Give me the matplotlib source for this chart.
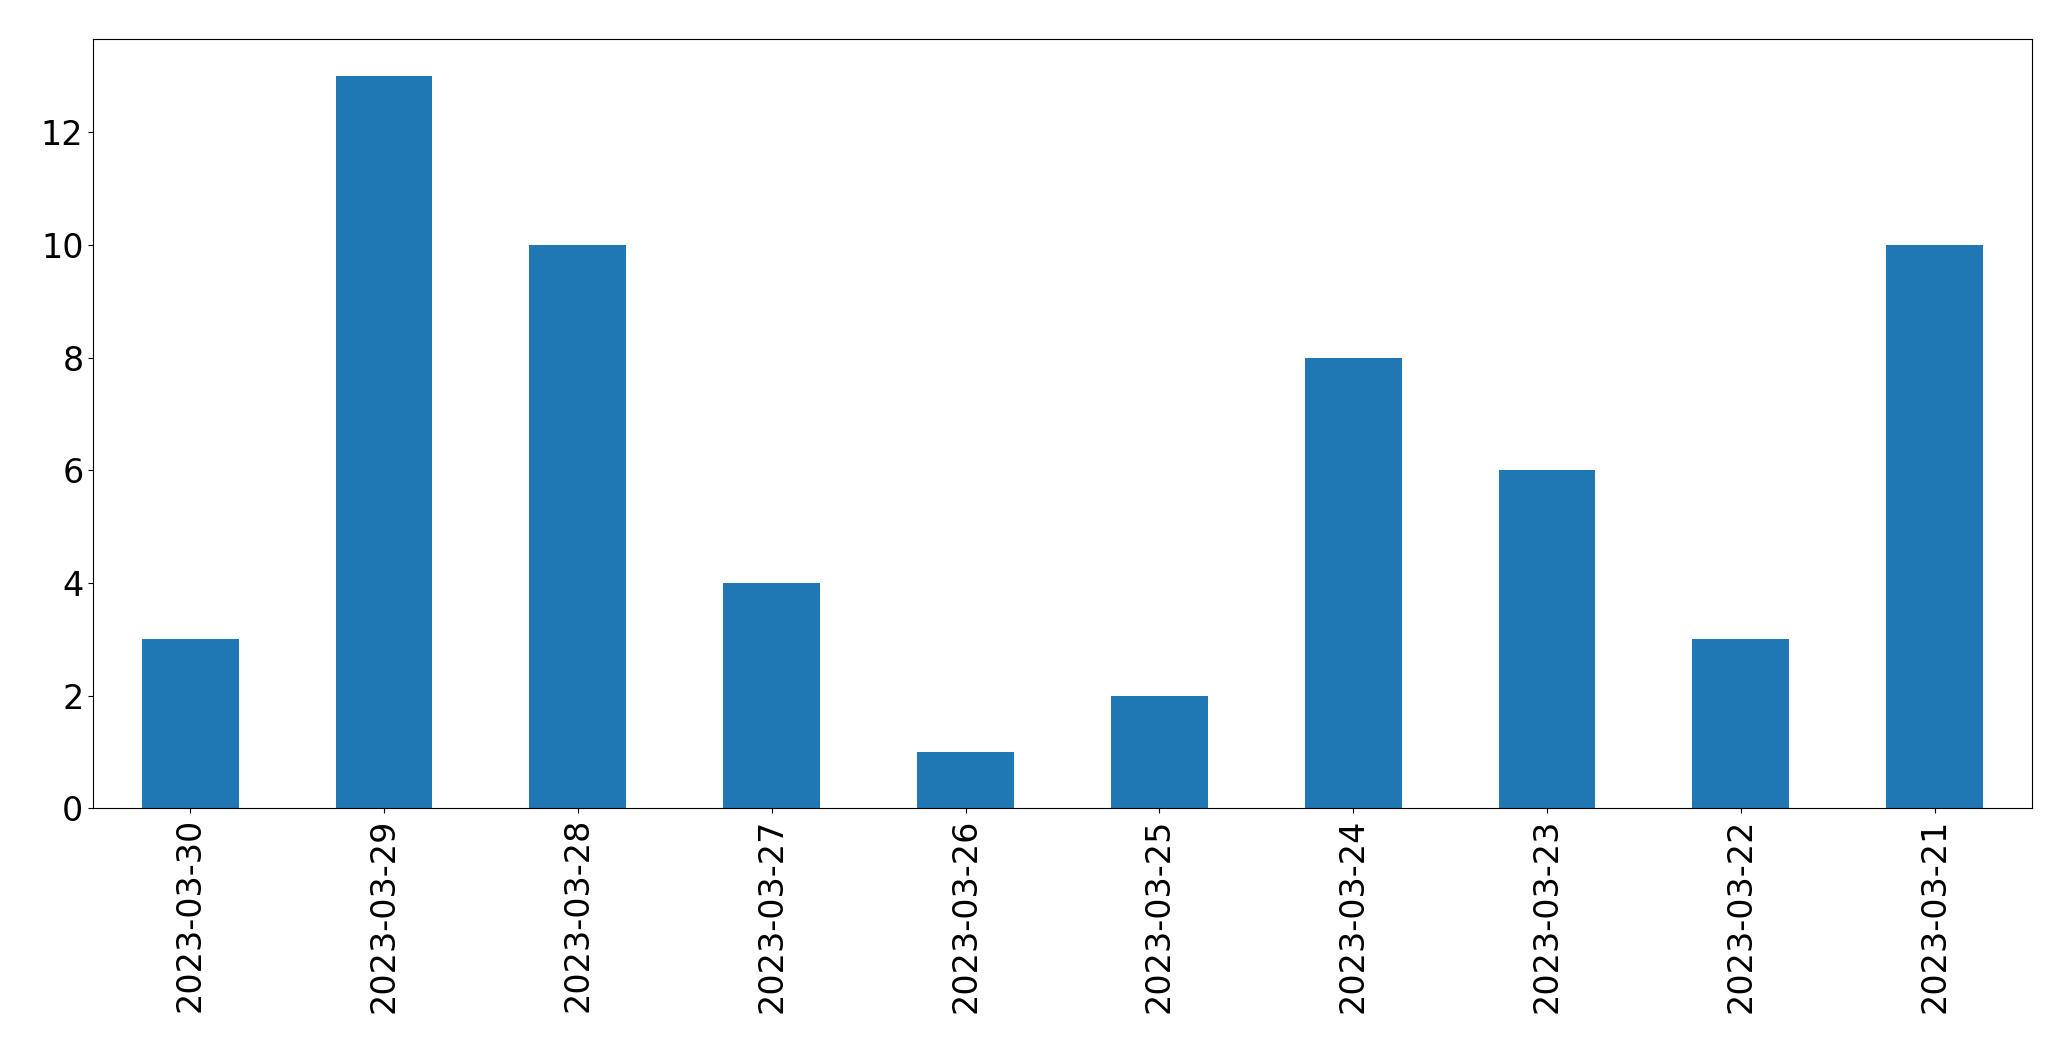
import matplotlib
matplotlib.use("Agg")
import matplotlib.pyplot as plt
import numpy as np

dates = ['2023-03-30', '2023-03-29', '2023-03-28', '2023-03-27', '2023-03-26',
         '2023-03-25', '2023-03-24', '2023-03-23', '2023-03-22', '2023-03-21']
counts = [3, 13, 10, 4, 1, 2, 8, 6, 3, 10]

fig = plt.figure(figsize=(20.71, 10.61), dpi=100)
ax = fig.add_axes([0.045, 0.238, 0.936, 0.725])
x = np.arange(len(dates))
ax.bar(x, counts, width=0.5, color='#1f77b4')
ax.set_xlim(-0.5, len(dates) - 0.5)
ax.set_xticks(x)
ax.set_xticklabels(dates, rotation=90)
ax.tick_params(labelsize=24)
fig.savefig("out.png")
